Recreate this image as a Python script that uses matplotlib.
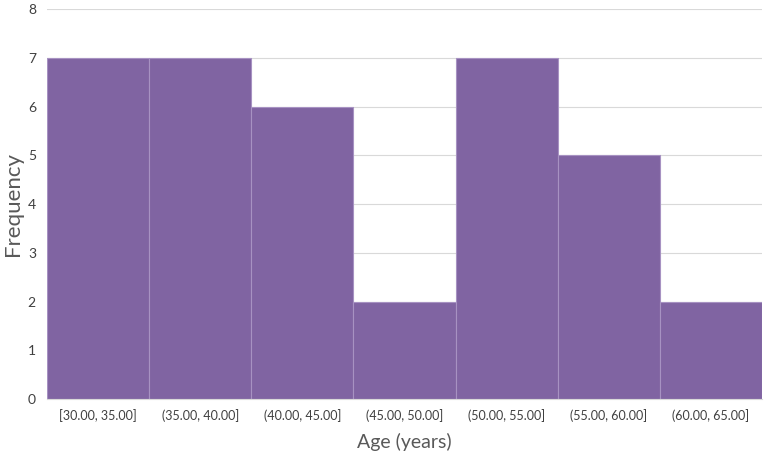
import matplotlib
matplotlib.use("Agg")
import matplotlib.pyplot as plt

categories = ["[30.00, 35.00]", "(35.00, 40.00]", "(40.00, 45.00]", "(45.00, 50.00]",
              "(50.00, 55.00]", "(55.00, 60.00]", "(60.00, 65.00]"]
frequency = [7, 7, 6, 2, 7, 5, 2]
y_ticks = [0, 1, 2, 3, 4, 5, 6, 7, 8]

plt.rcParams['font.family'] = ['Lato', 'DejaVu Sans']

fig = plt.figure(figsize=(7.67, 4.57), dpi=100)
ax = fig.add_axes([0.0613, 0.1269, 0.9322, 0.8534])

x = range(len(categories))
ax.bar(x, frequency, width=1.0, color="#8064a2", edgecolor="#a792c2", linewidth=0.8, zorder=2)

ax.set_xlim(-0.5, len(categories) - 0.5)
ax.set_ylim(0, 8)
ax.set_yticks(y_ticks)
ax.set_xticks(list(x))
ax.set_xticklabels(categories, fontsize=9, color="#404040")
ax.tick_params(axis='y', labelsize=10, colors="#404040", length=0, pad=8)
ax.tick_params(axis='x', length=0, pad=7)
ax.yaxis.grid(True, color="#d9d9d9", linewidth=0.8, zorder=0)
ax.set_axisbelow(True)
for side in ["top", "right", "left"]:
    ax.spines[side].set_visible(False)
ax.spines["bottom"].set_color("#d9d9d9")

ax.set_xlabel("Age (years)", fontsize=14, color="#595959", labelpad=8)
ax.set_ylabel("Frequency", fontsize=16, color="#595959")
ax.yaxis.set_label_coords(-0.033, 0.5)

fig.savefig("out.png", dpi=100)
